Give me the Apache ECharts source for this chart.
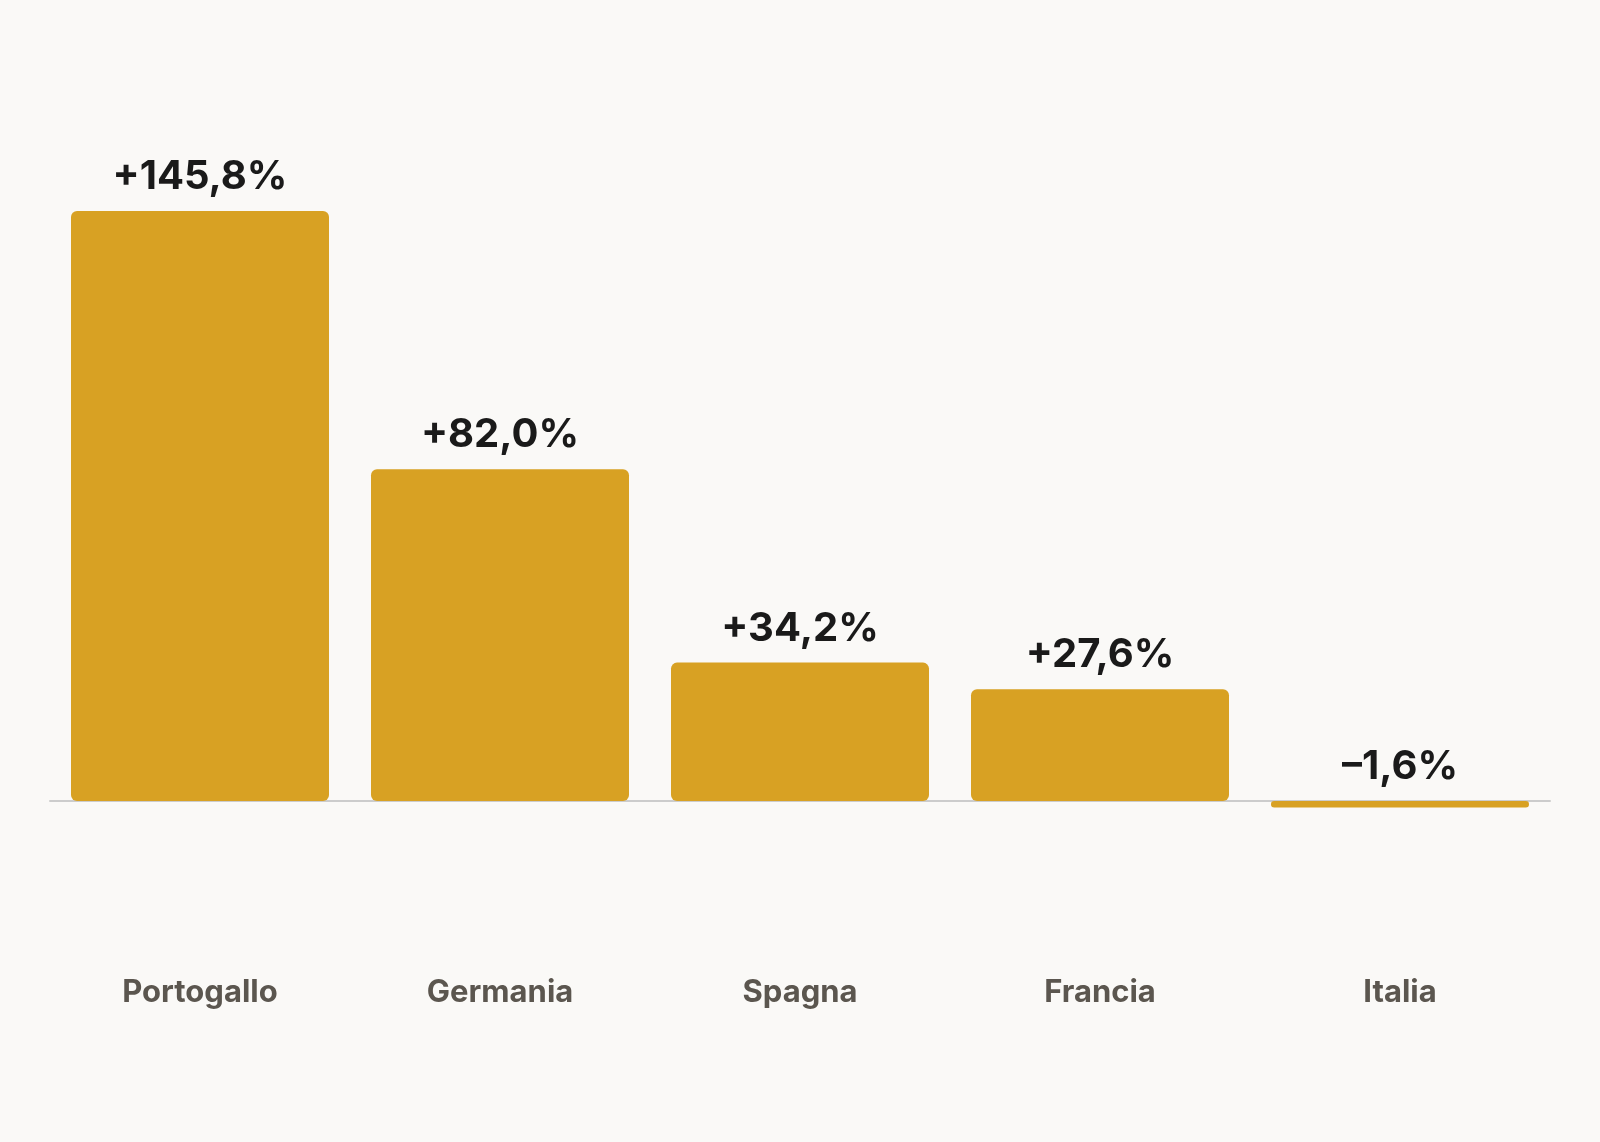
<!DOCTYPE html>
<html><head><meta charset="utf-8">
<script src="https://cdn.jsdelivr.net/npm/echarts@6/dist/echarts.min.js"></script>
<style>html,body{margin:0;padding:0;background:#FAF9F7}#c{width:1600px;height:1142px}</style>
</head><body><div id="c"></div>
<script>
const categories = ["Portogallo","Germania","Spagna","Francia","Italia"];
const values = [145.8, 82.0, 34.2, 27.6, -1.6];
const labels = ["+145,8%","+82,0%","+34,2%","+27,6%","\u20131,6%"];
const chart = echarts.init(document.getElementById('c'));
chart.setOption({
  backgroundColor:'#FAF9F7',
  grid:{left:50,right:50,top:211,bottom:334.5},
  xAxis:{type:'category',data:categories,axisTick:{show:false},
    axisLine:{onZero:true,lineStyle:{color:'#cccccc',width:2}},
    axisLabel:{margin:170,color:'#5b564f',fontFamily:'Inter',fontWeight:'bold',fontSize:31}},
  yAxis:{type:'value',min:-1.6,max:145.8,show:false,splitLine:{show:false}},
  series:[{type:'bar',data:values,barCategoryGap:'14%',
    itemStyle:{color:'#D8A123',borderRadius:6},
    label:{show:true,position:'top',distance:14,color:'#1a1a1a',fontFamily:'Inter',fontWeight:'bold',fontSize:40,
      formatter:p=>labels[p.dataIndex]}}]
});
</script></body></html>
